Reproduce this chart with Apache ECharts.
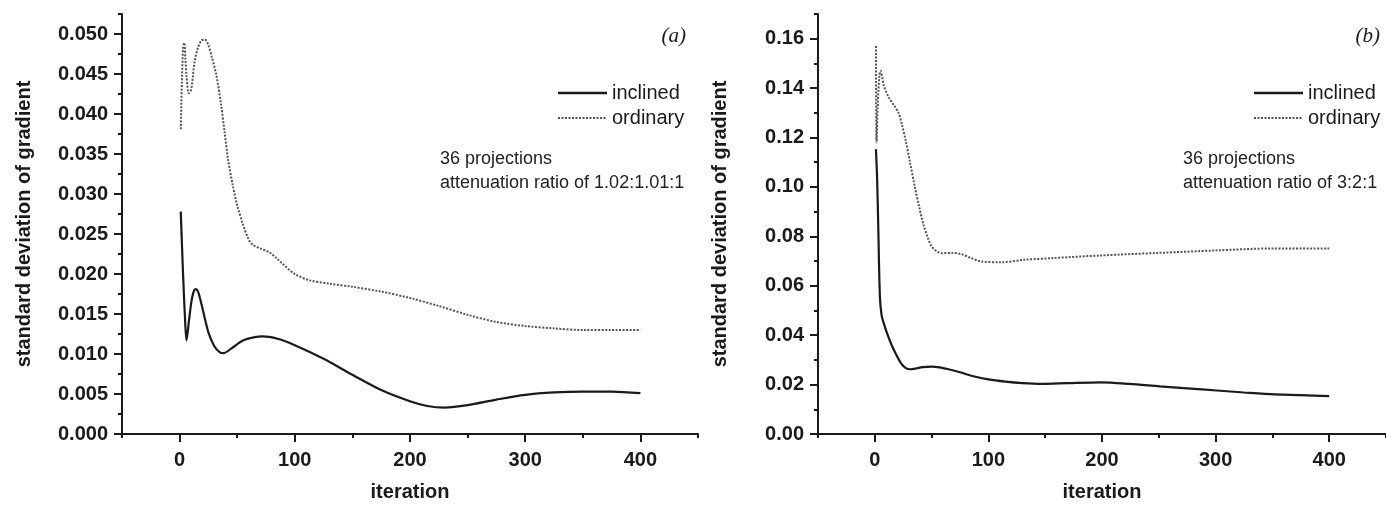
<!DOCTYPE html>
<html>
<head>
<meta charset="utf-8">
<script src="https://cdn.jsdelivr.net/npm/echarts@6/dist/echarts.min.js"></script>
<style>
html,body{margin:0;padding:0;background:#fff;}
#chart{width:1386px;height:507px;}
</style>
</head>
<body>
<div id="chart"></div>
<script>
// ---------- data ----------
const seriesNames = ['inclined', 'ordinary'];

// panel (a)
const iterA_inclined = [1,3,5,6,8,10,12,14,16,18,21,25,30,35,38,45,55,65,72,85,100,125,150,175,200,215,230,250,275,300,325,350,375,400];
const valA_inclined  = [0.0278,0.0200,0.0135,0.0117,0.0140,0.0163,0.0177,0.0181,0.0178,0.0168,0.0150,0.0127,0.0110,0.0102,0.0101,0.0107,0.0117,0.0121,0.0122,0.0119,0.0111,0.0094,0.0074,0.0055,0.0041,0.0035,0.0033,0.0036,0.0043,0.0049,0.0052,0.0053,0.0053,0.0051];

const iterA_ordinary = [1,2,3,4,5,6,8,10,13,16,19,22,25,28,32,36,39,42,46,50,55,60,64,70,78,84,90,100,113,130,150,175,200,225,250,275,300,325,350,375,400];
const valA_ordinary  = [0.0381,0.0440,0.0482,0.0489,0.0470,0.0447,0.0426,0.0430,0.0465,0.0483,0.0492,0.0493,0.0486,0.0471,0.0448,0.0412,0.0378,0.0344,0.0312,0.0286,0.0262,0.0243,0.0236,0.0232,0.0227,0.0220,0.0212,0.0200,0.0192,0.0188,0.0184,0.0178,0.0170,0.0160,0.0149,0.0140,0.0135,0.0132,0.0130,0.0130,0.0130];

// panel (b)
const iterB_inclined = [1,2,3,4.5,6,8,11,15,19,23,27,31,36,42,50,57,65,75,85,100,115,130,147,170,199,224,251,275,301,325,352,375,400];
const valB_inclined  = [0.1153,0.1040,0.0850,0.0555,0.0480,0.0447,0.0405,0.0358,0.0320,0.0287,0.0268,0.0262,0.0265,0.0271,0.0273,0.0270,0.0262,0.0250,0.0236,0.0221,0.0212,0.0206,0.0203,0.0206,0.0209,0.0203,0.0193,0.0185,0.0176,0.0168,0.0160,0.0157,0.0153];

const iterB_ordinary = [1,1.5,2.5,4,5,8,12,17,21,24,27,31,35,39,43,47,50,55,59,68,76,85,93,111,131,157,200,250,300,350,400];
const valB_ordinary  = [0.157,0.118,0.132,0.145,0.147,0.141,0.1365,0.133,0.1299,0.125,0.1192,0.110,0.1005,0.092,0.0845,0.079,0.0759,0.0738,0.0732,0.0733,0.0728,0.0712,0.0699,0.0695,0.0705,0.0712,0.0723,0.0733,0.0743,0.0751,0.0751];

// tick labels
const xTicks  = [0,100,200,300,400];
const yTicksA = [0,0.005,0.010,0.015,0.020,0.025,0.030,0.035,0.040,0.045,0.050];
const yTicksB = [0,0.02,0.04,0.06,0.08,0.10,0.12,0.14,0.16];

const panelA_note = ['36 projections', 'attenuation ratio of 1.02:1.01:1'];
const panelB_note = ['36 projections', 'attenuation ratio of 3:2:1'];

// ---------- build ----------
const zip = (xs, ys) => xs.map((x, i) => [x, ys[i]]);
const FONT = '"Liberation Sans", Arial, sans-serif';
const INK = '#1a1a1a';
const DOT = '#555';

function xAxes(gridIndex) {
  return [
    {
      type: 'value', gridIndex, position: 'bottom', min: -50, max: 450,
      axisLine: { show: true, onZero: false, lineStyle: { color: INK, width: 2 } },
      axisTick: { show: true, customValues: xTicks, length: 8, lineStyle: { color: INK, width: 2 } },
      axisLabel: { customValues: xTicks, margin: 16, fontFamily: FONT, fontWeight: 'bold', fontSize: 20, color: INK },
      splitLine: { show: false },
      name: 'iteration', nameLocation: 'middle', nameGap: 48,
      nameTextStyle: { fontFamily: FONT, fontWeight: 'bold', fontSize: 20, color: INK }
    },
    {
      type: 'value', gridIndex, position: 'bottom', min: -50, max: 450, interval: 50,
      axisLine: { show: false, onZero: false },
      axisTick: { show: true, length: 4, lineStyle: { color: INK, width: 2 } },
      axisLabel: { show: false }, splitLine: { show: false }
    }
  ];
}

function yAxes(gridIndex, max, ticks, minorInterval, digits) {
  return [
    {
      type: 'value', gridIndex, position: 'left', min: 0, max,
      axisLine: { show: true, onZero: false, lineStyle: { color: INK, width: 2 } },
      axisTick: { show: true, customValues: ticks, length: 8, lineStyle: { color: INK, width: 2 } },
      axisLabel: { customValues: ticks, margin: 14, fontFamily: FONT, fontWeight: 'bold', fontSize: 20, color: INK,
                   formatter: v => v.toFixed(digits) },
      splitLine: { show: false },
      name: 'standard deviation of gradient', nameLocation: 'middle', nameGap: 88, nameRotate: 90,
      nameTextStyle: { fontFamily: FONT, fontWeight: 'bold', fontSize: 20, color: INK }
    },
    {
      type: 'value', gridIndex, position: 'left', min: 0, max, interval: minorInterval,
      axisLine: { show: false, onZero: false },
      axisTick: { show: true, length: 4, lineStyle: { color: INK, width: 2 } },
      axisLabel: { show: false }, splitLine: { show: false }
    }
  ];
}

function mkSeries(name, xi, yi, xs, ys) {
  const dotted = name === 'ordinary';
  return {
    name, type: 'line', xAxisIndex: xi, yAxisIndex: yi,
    data: zip(xs, ys), showSymbol: false, symbol: 'none', smooth: 0.3,
    lineStyle: dotted ? { color: DOT, width: 2, type: [2, 1.5] } : { color: INK, width: 2.2 },
    animation: false, z: dotted ? 2 : 3
  };
}

// hand-drawn legend (line sample + label) for one panel
function legendGraphics(x0) {
  const out = [];
  seriesNames.forEach((name, i) => {
    const y = 93 + i * 25;
    const dotted = name === 'ordinary';
    out.push({
      type: 'line', shape: { x1: x0, y1: y, x2: x0 + 49, y2: y },
      style: dotted ? { stroke: DOT, lineWidth: 2, lineDash: [2, 1.5] } : { stroke: INK, lineWidth: 2.4 }
    });
    out.push({
      type: 'text', x: x0 + 54, y,
      style: { text: name, font: '20px "Liberation Sans", Arial, sans-serif', fill: INK, textVerticalAlign: 'middle', verticalAlign: 'middle' }
    });
  });
  return out;
}

function note(left, lines) {
  return {
    type: 'text', left, top: 147,
    style: { text: lines.join('\n'), font: '18px "Liberation Sans", Arial, sans-serif', fill: '#222', lineHeight: 24 }
  };
}

const option = {
  backgroundColor: '#fff',
  animation: false,
  grid: [
    { left: 122, top: 14, width: 576, bottom: 68.5, containLabel: false },
    { left: 818, top: 14, width: 576, bottom: 68.5, containLabel: false }
  ],
  xAxis: [...xAxes(0), ...xAxes(1)],
  yAxis: [...yAxes(0, 0.0525, yTicksA, 0.0025, 3), ...yAxes(1, 0.17, yTicksB, 0.01, 2)],
  series: [
    mkSeries('inclined', 0, 0, iterA_inclined, valA_inclined),
    mkSeries('ordinary', 0, 0, iterA_ordinary, valA_ordinary),
    mkSeries('inclined', 2, 2, iterB_inclined, valB_inclined),
    mkSeries('ordinary', 2, 2, iterB_ordinary, valB_ordinary)
  ],
  graphic: [
    ...legendGraphics(558),
    ...legendGraphics(1254),
    note(440, panelA_note),
    note(1183, panelB_note),
    { type: 'text', right: 700, top: 26, style: { text: '(a)', font: 'italic 21px "Liberation Serif", "Times New Roman", serif', fill: INK } },
    { type: 'text', right: 6, top: 26, style: { text: '(b)', font: 'italic 21px "Liberation Serif", "Times New Roman", serif', fill: INK } }
  ]
};

const chart = echarts.init(document.getElementById('chart'), null, { renderer: 'canvas' });
chart.setOption(option);
</script>
</body>
</html>
